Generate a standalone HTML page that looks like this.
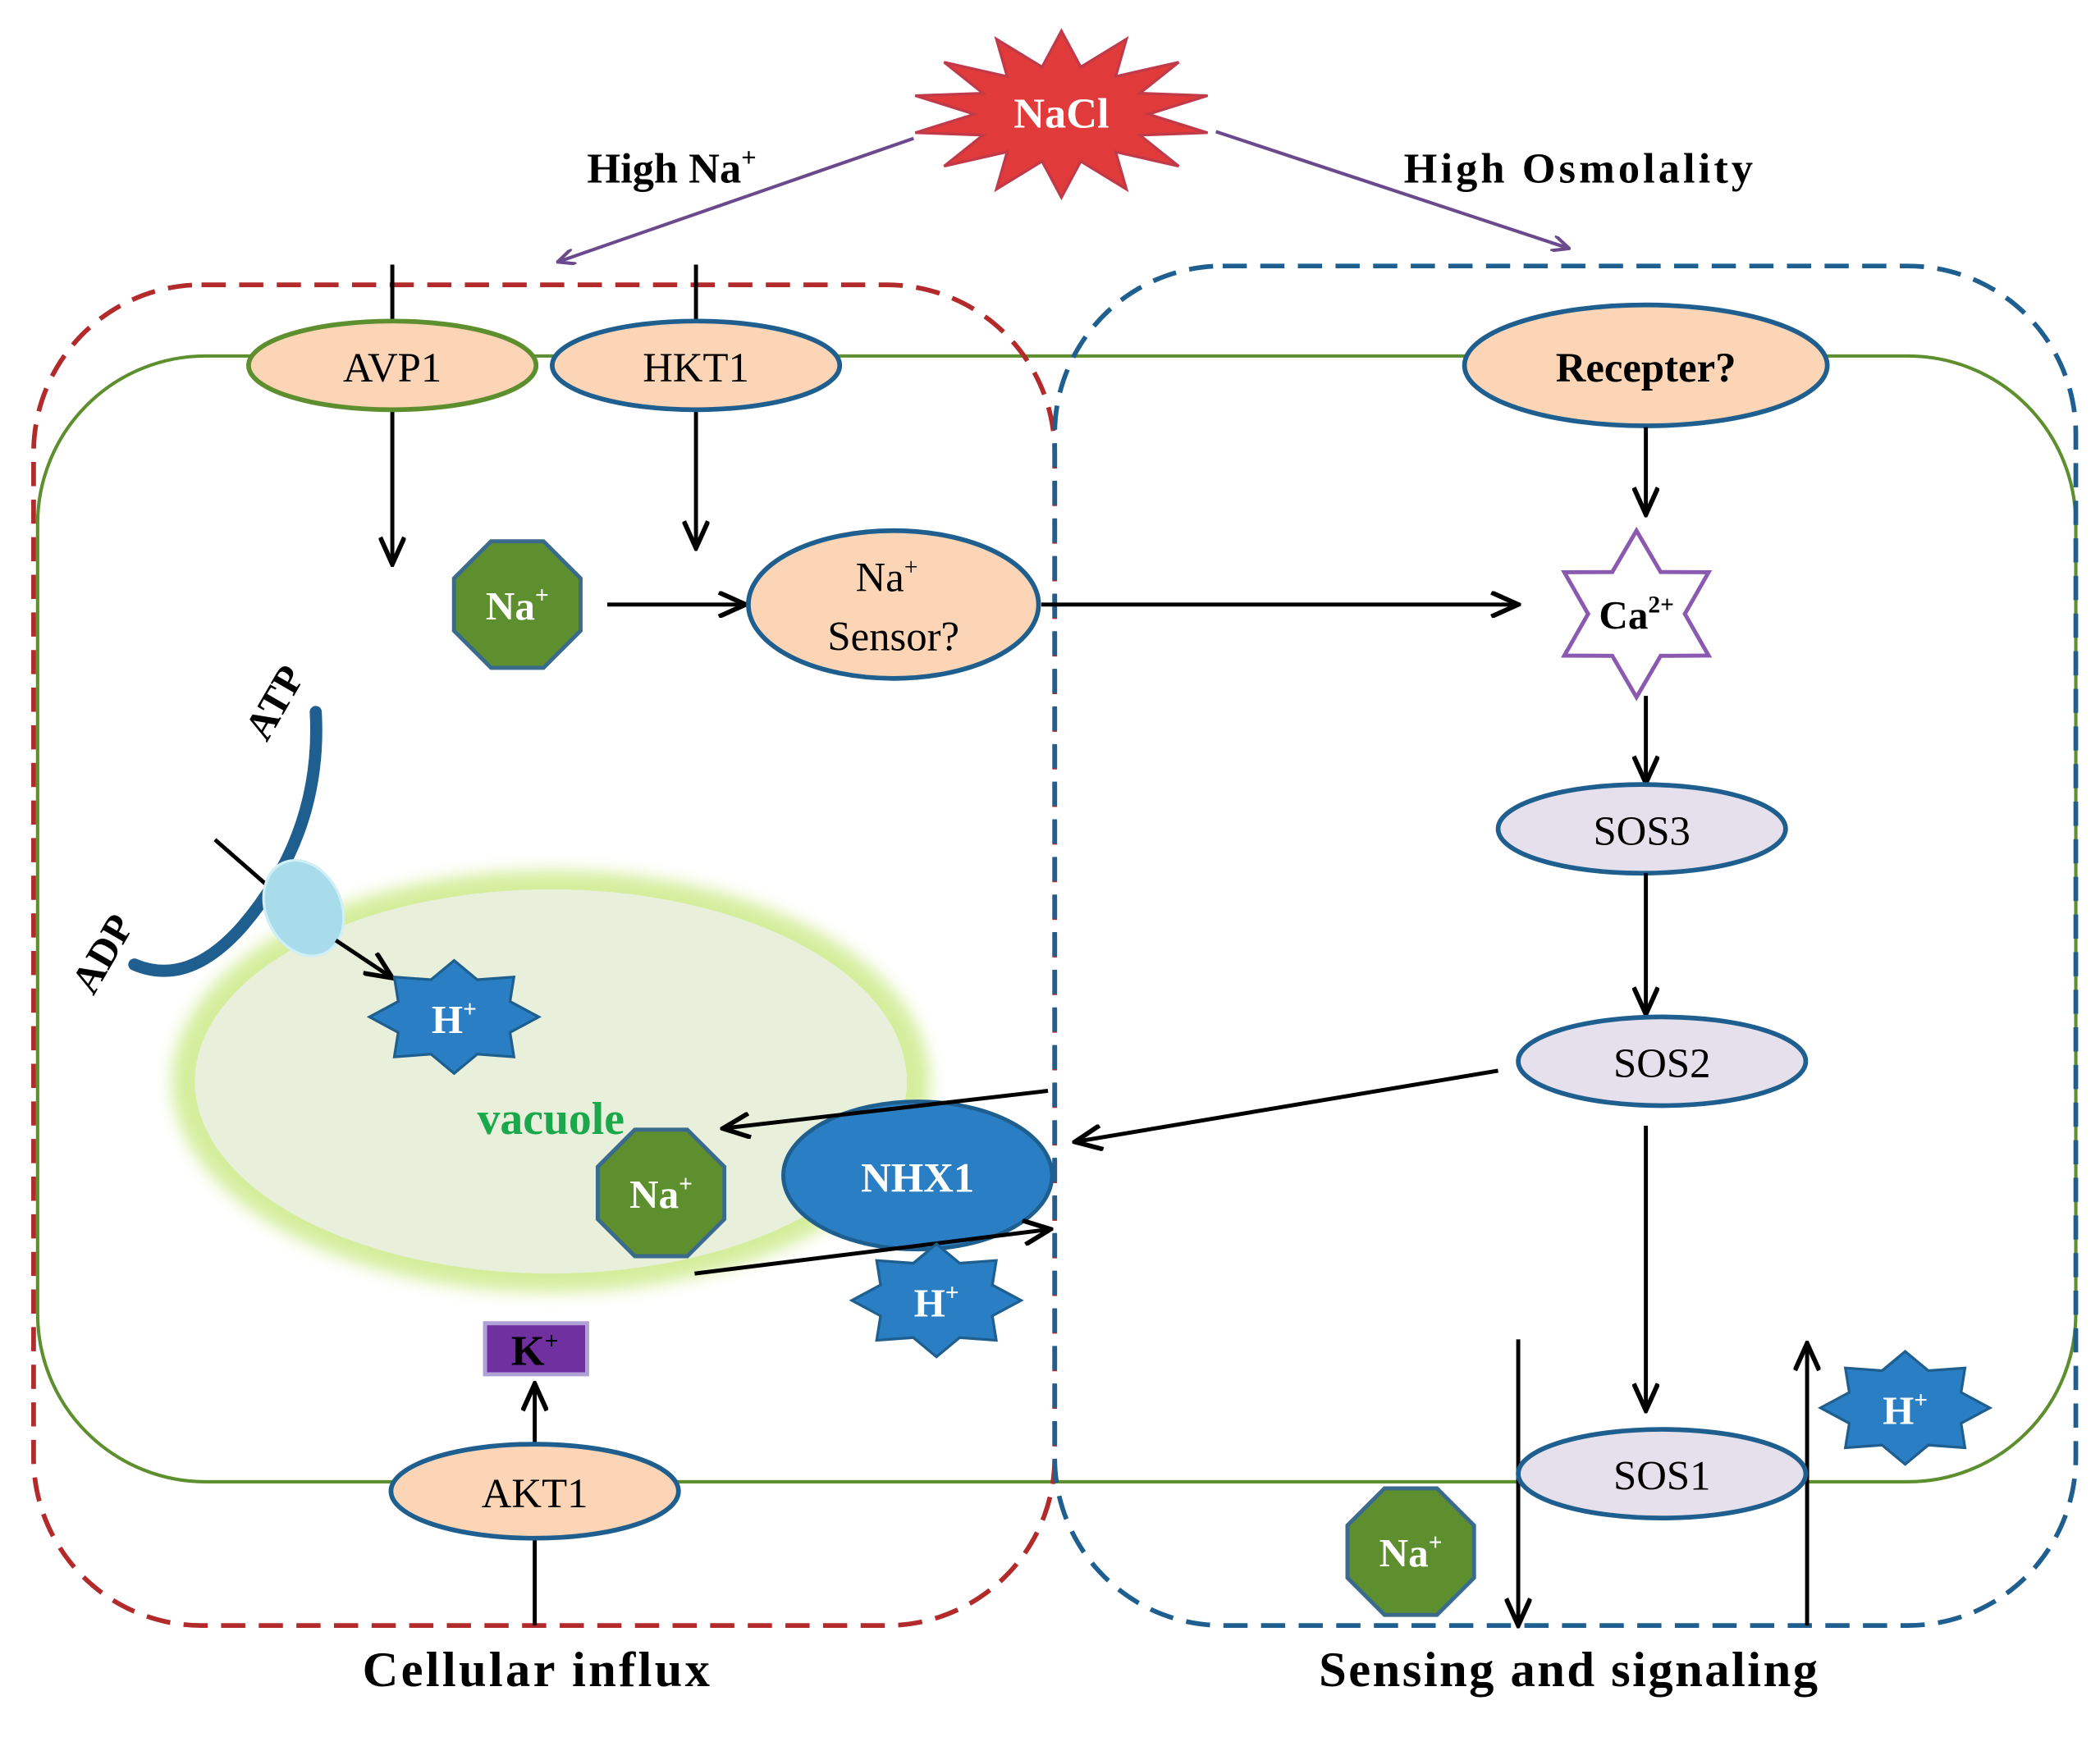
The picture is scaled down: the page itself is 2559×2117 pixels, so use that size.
<!DOCTYPE html>
<html><head><meta charset="utf-8"><style>
html,body{margin:0;padding:0;background:#fff;}
svg{display:block;}
text{font-family:"Liberation Serif",serif;font-weight:bold;}
</style></head><body>
<svg id="s" width="2559" height="2117" viewBox="0 0 1563 1293" preserveAspectRatio="none" xmlns="http://www.w3.org/2000/svg">
<defs>
<marker id="ap" markerWidth="14" markerHeight="12" refX="13" refY="6" orient="auto" markerUnits="userSpaceOnUse"><path d="M0,0 L13,6 L0,12" fill="none" stroke="#6a4a8c" stroke-width="2.5"/></marker>
<marker id="ak" markerWidth="24" markerHeight="20" refX="22" refY="10" orient="auto" markerUnits="userSpaceOnUse"><path d="M2,1 L22,10 L2,19" fill="none" stroke="#000" stroke-width="3.5"/></marker>
<filter id="blur"><feGaussianBlur stdDeviation="6"/></filter>
</defs>
<rect x="28" y="265" width="1517" height="838" rx="125" fill="none" stroke="#5e8f2e" stroke-width="2.5"/>
<ellipse cx="410" cy="805" rx="282" ry="157" fill="#d4ee9c" filter="url(#blur)"/>
<ellipse cx="410" cy="805" rx="265" ry="143" fill="#e8f0dc"/>
<rect x="25" y="212" width="760" height="998" rx="125" fill="none" stroke="#b22a2a" stroke-width="3.5" stroke-dasharray="18,10"/>
<rect x="785" y="198" width="760" height="1012" rx="125" fill="none" stroke="#1f5f8f" stroke-width="3.5" stroke-dasharray="18,10"/>
<polygon id="nacl" fill="#e03a3a" stroke="#c03a4a" stroke-width="2"/>
<text x="790" y="95" font-size="32" fill="#fff" text-anchor="middle">NaCl</text>
<line x1="680" y1="103" x2="415" y2="195" stroke="#6a4a8c" stroke-width="2.5" marker-end="url(#ap)"/>
<line x1="905" y1="98" x2="1168" y2="185" stroke="#6a4a8c" stroke-width="2.5" marker-end="url(#ap)"/>
<text x="500" y="136" font-size="32" text-anchor="middle">High Na<tspan font-size="20" dy="-12">+</tspan></text>
<text x="1176" y="136" font-size="32" text-anchor="middle" letter-spacing="2.5">High Osmolality</text>
<line x1="292" y1="197" x2="292" y2="420" stroke="#000" stroke-width="3" marker-end="url(#ak)"/>
<line x1="518" y1="197" x2="518" y2="408" stroke="#000" stroke-width="3" marker-end="url(#ak)"/>
<ellipse cx="292" cy="272" rx="107" ry="33" fill="#fbd5b5" stroke="#5e8f2e" stroke-width="3.5"/>
<text x="292" y="284" font-size="31" text-anchor="middle" style="font-weight:normal">AVP1</text>
<ellipse cx="518" cy="272" rx="107" ry="33" fill="#fbd5b5" stroke="#1f5f8f" stroke-width="3.5"/>
<text x="518" y="284" font-size="31" text-anchor="middle" style="font-weight:normal">HKT1</text>
<polygon id="oct1" fill="#5e8f2e" stroke="#3a6a8c" stroke-width="3"/>
<text x="385" y="461" font-size="30" fill="#fff" text-anchor="middle" font-family="Liberation Sans">Na<tspan font-size="18" dy="-12">+</tspan></text>
<line x1="452" y1="450" x2="555" y2="450" stroke="#000" stroke-width="3" marker-end="url(#ak)"/>
<ellipse cx="665" cy="450" rx="108" ry="55" fill="#fbd5b5" stroke="#1f5f8f" stroke-width="3.5"/>
<text x="660" y="440" font-size="31" text-anchor="middle" style="font-weight:normal">Na<tspan font-size="18" dy="-12">+</tspan></text>
<text x="665" y="484" font-size="31" text-anchor="middle" style="font-weight:normal">Sensor?</text>
<line x1="775" y1="450" x2="1130" y2="450" stroke="#000" stroke-width="3" marker-end="url(#ak)"/>
<ellipse cx="1225" cy="272" rx="135" ry="45" fill="#fbd5b5" stroke="#1f5f8f" stroke-width="3.5"/>
<text x="1225" y="284" font-size="31" text-anchor="middle">Recepter?</text>
<line x1="1225" y1="318" x2="1225" y2="383" stroke="#000" stroke-width="3" marker-end="url(#ak)"/>
<polygon id="ca" fill="#fff" stroke="#8a5ab0" stroke-width="3"/>
<text x="1218" y="468" font-size="30" text-anchor="middle" font-family="Liberation Sans">Ca<tspan font-size="18" dy="-12">2+</tspan></text>
<line x1="1225" y1="518" x2="1225" y2="583" stroke="#000" stroke-width="3" marker-end="url(#ak)"/>
<ellipse cx="1222" cy="617" rx="107" ry="33" fill="#e6e0ec" stroke="#1f5f8f" stroke-width="3.5"/>
<text x="1222" y="629" font-size="31" text-anchor="middle" style="font-weight:normal">SOS3</text>
<line x1="1225" y1="650" x2="1225" y2="755" stroke="#000" stroke-width="3" marker-end="url(#ak)"/>
<ellipse cx="1237" cy="790" rx="107" ry="33" fill="#e6e0ec" stroke="#1f5f8f" stroke-width="3.5"/>
<text x="1237" y="802" font-size="31" text-anchor="middle" style="font-weight:normal">SOS2</text>
<line x1="1225" y1="838" x2="1225" y2="1050" stroke="#000" stroke-width="3" marker-end="url(#ak)"/>
<line x1="1130" y1="997" x2="1130" y2="1210" stroke="#000" stroke-width="3" marker-end="url(#ak)"/>
<line x1="1345" y1="1210" x2="1345" y2="1000" stroke="#000" stroke-width="3" marker-end="url(#ak)"/>
<ellipse cx="1237" cy="1097" rx="107" ry="33" fill="#e6e0ec" stroke="#1f5f8f" stroke-width="3.5"/>
<text x="1237" y="1109" font-size="31" text-anchor="middle" style="font-weight:normal">SOS1</text>
<polygon id="h3" fill="#2a7fc4" stroke="#1f5f8f" stroke-width="2"/>
<text x="1418" y="1060" font-size="30" fill="#fff" text-anchor="middle" font-family="Liberation Sans">H<tspan font-size="18" dy="-12">+</tspan></text>
<polygon id="oct3" fill="#5e8f2e" stroke="#3a6a8c" stroke-width="3"/>
<text x="1050" y="1166" font-size="30" fill="#fff" text-anchor="middle" font-family="Liberation Sans">Na<tspan font-size="18" dy="-12">+</tspan></text>
<line x1="1115" y1="797" x2="800" y2="850" stroke="#000" stroke-width="3" marker-end="url(#ak)"/>
<ellipse cx="683" cy="875" rx="100" ry="55" fill="#2a7fc4" stroke="#1f5f8f" stroke-width="3"/>
<text x="683" y="887" font-size="31" fill="#fff" text-anchor="middle">NHX1</text>
<line x1="780" y1="812" x2="538" y2="840" stroke="#000" stroke-width="3" marker-end="url(#ak)"/>
<line x1="517" y1="948" x2="782" y2="915" stroke="#000" stroke-width="3" marker-end="url(#ak)"/>
<polygon id="h2" fill="#2a7fc4" stroke="#1f5f8f" stroke-width="2"/>
<text x="697" y="980" font-size="30" fill="#fff" text-anchor="middle" font-family="Liberation Sans">H<tspan font-size="18" dy="-12">+</tspan></text>
<text x="410" y="844" font-size="34" fill="#1aa84a" text-anchor="middle">vacuole</text>
<polygon id="oct2" fill="#5e8f2e" stroke="#3a6a8c" stroke-width="3"/>
<text x="492" y="899" font-size="30" fill="#fff" text-anchor="middle" font-family="Liberation Sans">Na<tspan font-size="18" dy="-12">+</tspan></text>
<path d="M235,530 Q240,620 180,690 Q140,735 100,718" fill="none" stroke="#1f5f8f" stroke-width="9" stroke-linecap="round"/>
<line x1="160" y1="625" x2="200" y2="660" stroke="#000" stroke-width="3"/>
<ellipse cx="226" cy="676" rx="28" ry="37" transform="rotate(-25 226 676)" fill="#a8dcea" stroke="#cfeef5" stroke-width="2"/>
<line x1="250" y1="700" x2="292" y2="728" stroke="#000" stroke-width="3" marker-end="url(#ak)"/>
<polygon id="h1" fill="#2a7fc4" stroke="#1f5f8f" stroke-width="2"/>
<text x="338" y="769" font-size="30" fill="#fff" text-anchor="middle" font-family="Liberation Sans">H<tspan font-size="18" dy="-12">+</tspan></text>
<text x="0" y="0" font-size="30" text-anchor="middle" transform="translate(213,528) rotate(-60)">ATP</text>
<text x="0" y="0" font-size="30" text-anchor="middle" transform="translate(85,715) rotate(-60)">ADP</text>
<rect x="361" y="985" width="76" height="38" fill="#7030a0" stroke="#b0a0d8" stroke-width="3"/>
<text x="398" y="1016" font-size="32" text-anchor="middle">K<tspan font-size="18" dy="-12">+</tspan></text>
<line x1="398" y1="1075" x2="398" y2="1030" stroke="#000" stroke-width="3" marker-end="url(#ak)"/>
<line x1="398" y1="1145" x2="398" y2="1210" stroke="#000" stroke-width="3"/>
<ellipse cx="398" cy="1110" rx="107" ry="35" fill="#fbd5b5" stroke="#1f5f8f" stroke-width="3.5"/>
<text x="398" y="1122" font-size="31" text-anchor="middle" style="font-weight:normal">AKT1</text>
<text x="400" y="1255" font-size="37" text-anchor="middle" letter-spacing="2">Cellular influx</text>
<text x="1168" y="1255" font-size="37" text-anchor="middle" letter-spacing="1.5">Sensing and signaling</text>
</svg>
<script>
function star(id,cx,cy,n,ro,ri,rot,sx){sx=sx||1;var p=[];for(var i=0;i<2*n;i++){var r=i%2?ri:ro;var a=Math.PI*i/n+(rot||0)-Math.PI/2;p.push((cx+r*Math.cos(a)*sx).toFixed(1)+','+(cy+r*Math.sin(a)).toFixed(1));}document.getElementById(id).setAttribute('points',p.join(' '));}
function oct(id,cx,cy,r){var p=[];for(var i=0;i<8;i++){var a=Math.PI/8+i*Math.PI/4;p.push((cx+r*Math.cos(a)).toFixed(1)+','+(cy+r*Math.sin(a)).toFixed(1));}document.getElementById(id).setAttribute('points',p.join(' '));}
star('nacl',790,85,14,62,36,0,1.8);
star('ca',1218,457,6,62,36,0);
star('h1',338,757,8,42,30,0,1.5);
star('h2',697,968,8,42,30,0,1.5);
star('h3',1418,1048,8,42,30,0,1.5);
oct('oct1',385,450,51);oct('oct2',492,888,51);oct('oct3',1050,1155,51);
</script>
</body></html>
